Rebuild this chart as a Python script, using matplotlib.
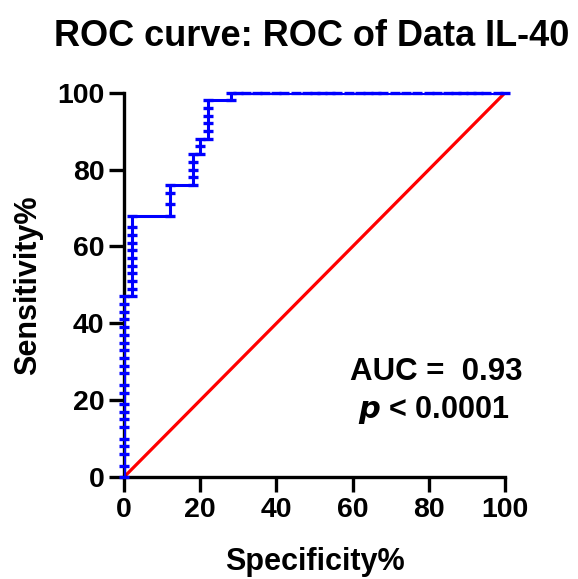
import matplotlib
matplotlib.use("Agg")
import matplotlib.pyplot as plt

plt.rcParams['font.family'] = ['Liberation Sans', 'DejaVu Sans']
plt.rcParams['font.weight'] = 'bold'

# ROC points (100% - Specificity%, Sensitivity%)
# each vertical run of the step curve: its x and the sensitivities marked on it
step_x = [0, 2, 12, 18, 20, 22, 28]
step_sens = [
    [0, 3, 6, 8, 10, 13, 15, 17, 19, 22, 24, 27, 29, 31, 33, 35, 37, 39, 41, 43, 45, 47],
    [47, 49, 51, 53, 55, 57, 59, 61, 63, 65, 68],
    [68, 71, 74, 76],
    [76, 78, 80, 82, 84],
    [84, 86, 88],
    [88, 90, 92, 94, 96, 98],
    [98, 100],
]
# points along the top (sensitivity 100%)
top_x = [30, 32, 35, 37, 40, 42, 45, 48, 50, 52, 54, 56, 59, 62, 64, 66, 68,
         71, 74, 77, 80, 82, 85, 87, 89, 91, 93, 95, 98, 100]

title = "ROC curve: ROC of Data IL-40"
auc_text = "AUC =  0.93"
p_text = r"$\bfit{p}$ < 0.0001"

fpr = []
sens = []
for x, ys in zip(step_x, step_sens):
    fpr += [x] * len(ys)
    sens += ys
fpr += top_x
sens += [100] * len(top_x)

fig = plt.figure(figsize=(5.78, 5.79), dpi=100)
ax = fig.add_axes([0.2145, 0.176, 0.6595, 0.664])

# reference line
ax.plot([0, 100], [0, 100], color='#ff0000', lw=2.3, zorder=2)
# ROC curve line (clipped) and markers (not clipped)
ax.plot(fpr, sens, color='#0000ff', lw=2.2, zorder=3)
ax.plot(fpr, sens, linestyle='none', marker='_', markersize=6.5, mew=2.4,
        color='#0000ff', clip_on=False, zorder=4)

ax.set_xlim(0, 100)
ax.set_ylim(0, 100)
ax.set_xticks([0, 20, 40, 60, 80, 100])
ax.set_yticks([0, 20, 40, 60, 80, 100])

for s in ['top', 'right']:
    ax.spines[s].set_visible(False)
for s in ['left', 'bottom']:
    ax.spines[s].set_linewidth(2.4)
ax.tick_params(width=2.4, length=11, labelsize=20.5, pad=3)
for lab in ax.get_xticklabels() + ax.get_yticklabels():
    lab.set_fontweight('bold')

ax.set_xlabel("Specificity%", fontsize=22, fontweight='bold')
ax.set_ylabel("Sensitivity%", fontsize=22, fontweight='bold')
ax.xaxis.set_label_coords(0.5, -0.183)
ax.yaxis.set_label_coords(-0.213, 0.5)
fig.suptitle(title, fontsize=26, fontweight='bold', x=0.54, y=0.968)

ax.text(104.5, 27.3, auc_text, fontsize=22.5, fontweight='bold', ha='right', va='center')
ax.text(101.2, 17.4, p_text, fontsize=22, fontweight='bold', ha='right', va='center')

fig.savefig("out.png", dpi=100)
